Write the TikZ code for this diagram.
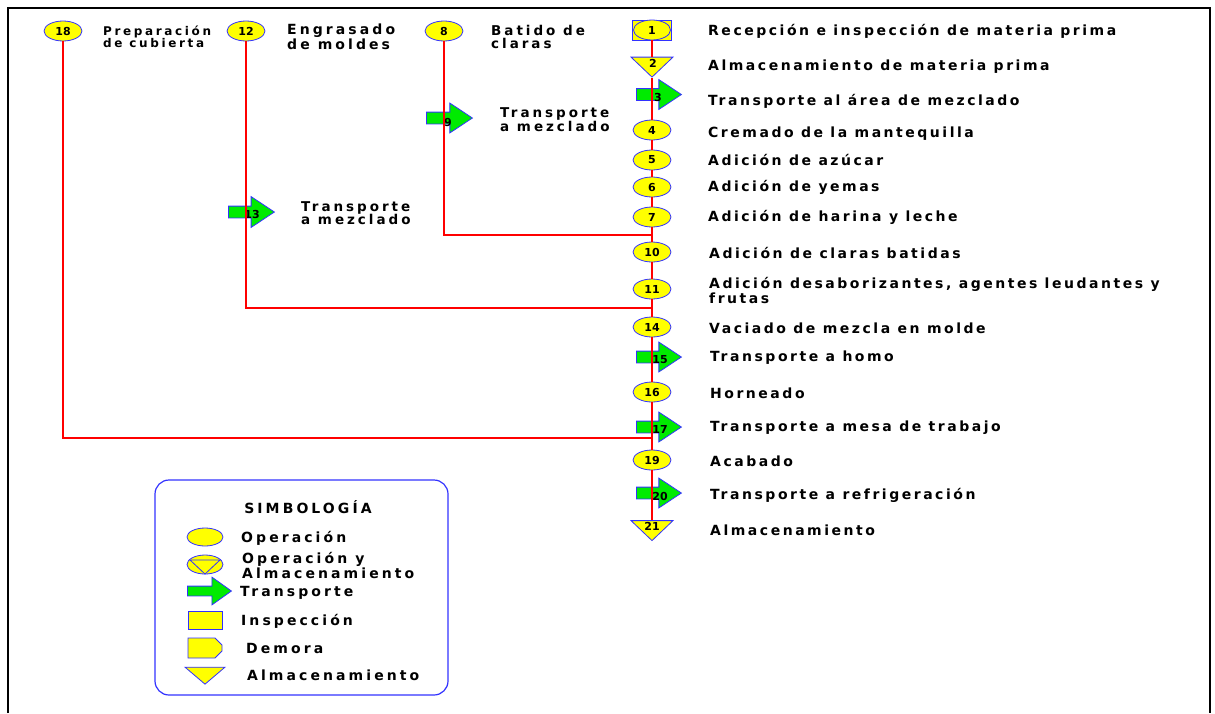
\documentclass[tikz,border=0pt]{standalone}
\usepackage{fontspec}
\setmainfont{DejaVu Sans}
\newfontfamily\stepfont[LetterSpace=18]{DejaVu Sans}
\newfontfamily\branchfont[LetterSpace=22]{DejaVu Sans}
\usetikzlibrary{shapes.geometric,shapes.arrows}

\definecolor{flowred}{RGB}{255,0,0}
\definecolor{symyellow}{RGB}{255,255,0}
\definecolor{symblue}{RGB}{50,50,255}
\definecolor{symgreen}{RGB}{0,235,0}

\newcommand{\numfont}{\bfseries\fontsize{11}{11}\selectfont}
\newcommand{\steptext}{\stepfont\bfseries\fontsize{14}{13}\selectfont}
\newcommand{\branchtext}{\branchfont\bfseries\fontsize{13.5}{13.5}\selectfont}

\begin{document}
\begin{tikzpicture}[x=1pt, y=-1pt,
    opnode/.style={ellipse, draw=symblue, line width=0.8pt, fill=symyellow, minimum width=38, minimum height=20, inner sep=0pt, font=\numfont},
    inspnode/.style={rectangle, draw=symblue, line width=0.8pt, fill=symyellow, minimum width=39, minimum height=20, inner sep=0pt},
    storenode/.style={isosceles triangle, isosceles triangle stretches, shape border rotate=-90, draw=symblue, line width=0.8pt, fill=symyellow, minimum width=42, minimum height=20, inner sep=0pt},
    transnode/.style={single arrow, draw=symblue, line width=0.8pt, fill=symgreen, anchor=tail, minimum height=45, inner xsep=0pt, inner ysep=5.5pt, single arrow head extend=9, single arrow tip angle=67},
    num/.style={font=\numfont, inner sep=0pt},
    flow/.style={draw=flowred, line width=2.6pt},
    steplabel/.style={anchor=west, inner sep=0pt, align=left, font=\steptext},
    branchlabel/.style={anchor=west, inner sep=0pt, align=left, font=\branchtext}
    ]
    \useasboundingbox (0,0) rectangle (1215,713);
    % frame
    \draw[line width=1.6pt] (8,713) -- (8,8) -- (1210,8) -- (1210,713);

    % main column
    \node [inspnode] (p1) at (652,30) {};
    \node [opnode, minimum width=37] (o1) at (652,30) {1};
    \node [storenode] (s2) at (652,65.5) {};
    \node [num] (n2) at (653,63) {2};
    \node [transnode] (t3) at (636,94.5) {};
    \node [num] (n3) at (658,97) {3};
    \node [opnode] (o4) at (652,130) {4};
    \node [opnode] (o5) at (652,160) {5};
    \node [opnode] (o6) at (652,187) {6};
    \node [opnode] (o7) at (652,217) {7};
    \node [opnode] (o10) at (652,252) {10};
    \node [opnode] (o11) at (652,289) {11};
    \node [opnode] (o14) at (652,327) {14};
    \node [transnode] (t15) at (636,357) {};
    \node [num] (n15) at (660,360) {15};
    \node [opnode] (o16) at (652,392) {16};
    \node [transnode] (t17) at (636,427) {};
    \node [num] (n17) at (660,429) {17};
    \node [opnode] (o19) at (652,460) {19};
    \node [transnode] (t20) at (636,493) {};
    \node [num] (n20) at (660,496) {20};
    \node [storenode] (s21) at (652,529) {};
    \node [num] (n21) at (652,526) {21};

    \node [steplabel] (l1) at (708,31) {Recepción e inspección de materia prima};
    \node [steplabel] (l2) at (708,67) {Almacenamiento de materia prima};
    \node [steplabel] (l3) at (708,101) {Transporte al área de mezclado};
    \node [steplabel] (l4) at (708,134) {Cremado de la mantequilla};
    \node [steplabel] (l5) at (708,160) {Adición de azúcar};
    \node [steplabel] (l6) at (708,187) {Adición de yemas};
    \node [steplabel] (l7) at (708,217) {Adición de harina y leche};
    \node [steplabel] (l10) at (709,253) {Adición de claras batidas};
    \node [steplabel] (l11) at (709,290.5) {Adición desaborizantes, agentes leudantes y\\frutas};
    \node [steplabel] (l14) at (709,328) {Vaciado de mezcla en molde};
    \node [steplabel] (l15) at (710,358) {Transporte a homo};
    \node [steplabel] (l16) at (710,393) {Horneado};
    \node [steplabel] (l17) at (710,428) {Transporte a mesa de trabajo};
    \node [steplabel] (l19) at (710,461) {Acabado};
    \node [steplabel] (l20) at (710,495) {Transporte a refrigeración};
    \node [steplabel] (l21) at (710,530) {Almacenamiento};

    % branches
    \node [opnode] (o18) at (63,31) {18};
    \node [opnode] (o12) at (246,31) {12};
    \node [opnode] (o8) at (444,31) {8};
    \node [transnode, minimum height=46, single arrow head extend=9.5] (t13) at (228,212) {};
    \node [num] (n13) at (252,214) {13};
    \node [transnode, minimum height=46] (t9) at (426,118) {};
    \node [num] (n9) at (448,122) {9};

    \node [branchlabel, font=\branchtext\fontsize{12}{12}\selectfont] (l18) at (103,36.5) {Preparación\\de cubierta};
    \node [branchlabel, font=\branchtext\fontsize{14}{13}\selectfont] (l12) at (287,37) {Engrasado\\de moldes};
    \node [branchlabel] (l8) at (491,37) {Batido de\\claras};
    \node [branchlabel] (l13) at (301,213) {Transporte\\a mezclado};
    \node [branchlabel] (l9) at (500,119.5) {Transporte\\a mezclado};

    \coordinate (j8) at (652,235);
    \coordinate (j12) at (652,308);
    \coordinate (j18) at (652,438);

    % connectors
    \draw [flow] (p1) -- (s2);
    \draw [flow] (s2) -- (o4);
    \draw [flow] (o4) -- (o5);
    \draw [flow] (o5) -- (o6);
    \draw [flow] (o6) -- (o7);
    \draw [flow] (o7) -- (o10);
    \draw [flow] (o10) -- (o11);
    \draw [flow] (o11) -- (o14);
    \draw [flow] (o14) -- (o16);
    \draw [flow] (o16) -- (o19);
    \draw [flow] (o19) -- (s21);
    \draw [flow] (o8) |- (j8);
    \draw [flow] (o12) |- (j12);
    \draw [flow] (o18) |- (j18);

    % legend
    \node [draw=symblue, line width=1.2pt, rounded corners=14, minimum width=293, minimum height=215] (legend) at (301.5,587.5) {};
    \node [font=\branchtext\fontsize{14}{14}\selectfont] (title) at (308,507) {SIMBOLOGÍA};
    \node [opnode, minimum width=36, minimum height=18] (lgop) at (205,537) {};
    \node [opnode, minimum width=36, minimum height=19] (lgopst) at (205,564.5) {};
    \draw [symblue, line width=0.8pt] (190,560) -- (220,560) -- (205,574) -- cycle;
    \node [transnode, minimum height=44, inner ysep=4.5pt, single arrow tip angle=71] (lgtr) at (187,591) {};
    \node [inspnode, minimum width=34, minimum height=18] (lgin) at (205,620) {};
    \draw [draw=symblue, line width=0.8pt, fill=symyellow] (188,638) -- (215,638) -- (222,645) -- (222,651) -- (215,658) -- (188,658) -- cycle;
    \node [storenode, minimum width=40, minimum height=17] (lgst) at (205,674.5) {};

    \node [branchlabel, font=\branchtext\fontsize{14}{13}\selectfont] (lt1) at (241,538) {Operación};
    \node [branchlabel, font=\branchtext\fontsize{14}{13.5}\selectfont] (lt2) at (242,565.5) {Operación y\\Almacenamiento};
    \node [branchlabel, font=\branchtext\fontsize{14}{13}\selectfont] (lt3) at (240,593) {Transporte};
    \node [branchlabel, font=\branchtext\fontsize{14}{13}\selectfont] (lt4) at (241,621) {Inspección};
    \node [branchlabel, font=\branchtext\fontsize{14}{13}\selectfont] (lt5) at (246,648) {Demora};
    \node [branchlabel, font=\branchtext\fontsize{14}{13}\selectfont] (lt6) at (247,675) {Almacenamiento};
  \end{tikzpicture}
\end{document}
